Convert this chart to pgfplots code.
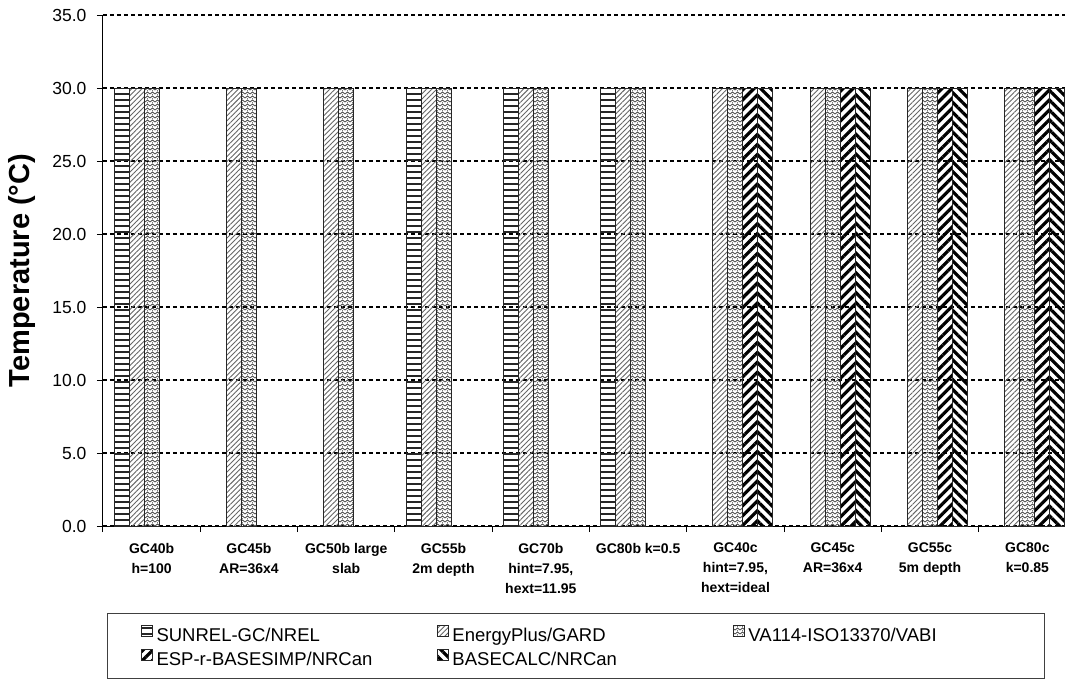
\documentclass[border=0pt]{standalone}
\usepackage{fontspec}
\setmainfont{Liberation Sans}
\usepackage{pgfplots}
\pgfplotsset{compat=1.18}
\usetikzlibrary{patterns,patterns.meta}

\pgfdeclarepatternformonly{vazig}{\pgfpoint{-1pt}{-1pt}}{\pgfpoint{6pt}{5pt}}{\pgfpoint{5pt}{4pt}}{%
  \pgfsetlinewidth{0.9pt}%
  \pgfpathmoveto{\pgfpoint{0pt}{0pt}}%
  \pgfpathlineto{\pgfpoint{2.5pt}{2pt}}%
  \pgfpathlineto{\pgfpoint{5pt}{0pt}}%
  \pgfusepath{stroke}%
  \pgfpathcircle{\pgfpoint{2.5pt}{3.4pt}}{0.45pt}%
  \pgfusepath{fill}%
}

\pgfplotsset{
  mybar/.style={ybar, bar width=15pt, draw=black!85, line width=1pt,
    legend image code/.code={\path (0pt,0pt); \draw[##1, line width=0.9pt] (28pt,-0.8pt) rectangle (39pt,10.2pt);}},
}
\newcommand{\lent}[2]{\makebox[#1][l]{\vphantom{Ag/}#2}}

\begin{document}
\begin{tikzpicture}
\useasboundingbox (-103pt,-168pt) rectangle (962pt,526pt);
\clip (-103pt,-168pt) rectangle (962pt,526pt);
\begin{axis}[
  at={(0pt,0pt)}, anchor=south west,
  scale only axis, width=973pt, height=511pt,
  xmin=-0.5, xmax=9.5, ymin=0, ymax=35,
  axis lines=left, axis line style={-, black, line width=1pt},
  tick align=outside, major tick length=6pt,
  tick style={black, line width=1pt},
  xtick={-0.5,0.5,...,9.5},
  x tick label as interval,
  xticklabels={{GC40b\\h=100},{GC45b\\AR=36x4},{GC50b large\\slab},{GC55b\\2m depth},{GC70b\\hint=7.95,\\hext=11.95},{GC80b k=0.5},{GC40c\\hint=7.95,\\hext=ideal},{GC45c\\AR=36x4},{GC55c\\5m depth},{GC80c\\k=0.85}},
  xticklabel style={font=\bfseries\fontsize{14}{20}\selectfont, align=center, inner sep=0pt, anchor=north, yshift=-11pt},
  ytick={0,5,...,35},
  yticklabel style={font=\fontsize{17.5}{20}\selectfont, xshift=-7pt, /pgf/number format/.cd, fixed, fixed zerofill, precision=1, assume math mode=true},
  ymajorgrids,
  major grid style={black, line width=1.6pt, dash pattern=on 4pt off 3pt},
  ylabel={Temperature (°C)},
  every axis y label/.style={at={(axis description cs:0,0.5)}, rotate=90, anchor=center, yshift=80.5pt, font=\bfseries\fontsize{29}{32}\selectfont},
  legend style={at={(0,0)}, anchor=north west, xshift=4pt, yshift=-87pt,
    legend columns=3, draw=black!75, line width=1.2pt, inner xsep=5pt, inner ysep=11.5pt,
    column sep=4pt, row sep=6pt, nodes={inner sep=0pt},
    font=\fontsize{18.5}{22}\selectfont},
]
\addplot[mybar, bar shift=-30pt, pattern={Lines[angle=0,distance=6pt,line width=1.3pt]}, pattern color=black!85]
  coordinates {(0,30) (3,30) (4,30) (5,30)};
\addlegendentry{\lent{248pt}{SUNREL-GC/NREL}}
\addplot[mybar, bar shift=-15pt, pattern={Lines[angle=45,distance=3.6pt,line width=0.9pt]}, pattern color=black!60]
  coordinates {(0,30) (1,30) (2,30) (3,30) (4,30) (5,30) (6,30) (7,30) (8,30) (9,30)};
\addlegendentry{\lent{248pt}{EnergyPlus/GARD}}
\addplot[mybar, bar shift=0pt, pattern=vazig, pattern color=black!65]
  coordinates {(0,30) (1,30) (2,30) (3,30) (4,30) (5,30) (6,30) (7,30) (8,30) (9,30)};
\addlegendentry{\lent{291pt}{VA114-ISO13370/VABI}}
\addplot[mybar, bar shift=15pt, pattern={Lines[angle=45,distance=7pt,line width=3.2pt]}, pattern color=black]
  coordinates {(6,30) (7,30) (8,30) (9,30)};
\addlegendentry{\lent{248pt}{ESP-r-BASESIMP/NRCan}}
\addplot[mybar, bar shift=30pt, pattern={Lines[angle=-45,distance=7pt,line width=3.2pt]}, pattern color=black]
  coordinates {(6,30) (7,30) (8,30) (9,30)};
\addlegendentry{\lent{248pt}{BASECALC/NRCan}}
\end{axis}
\end{tikzpicture}
\end{document}
